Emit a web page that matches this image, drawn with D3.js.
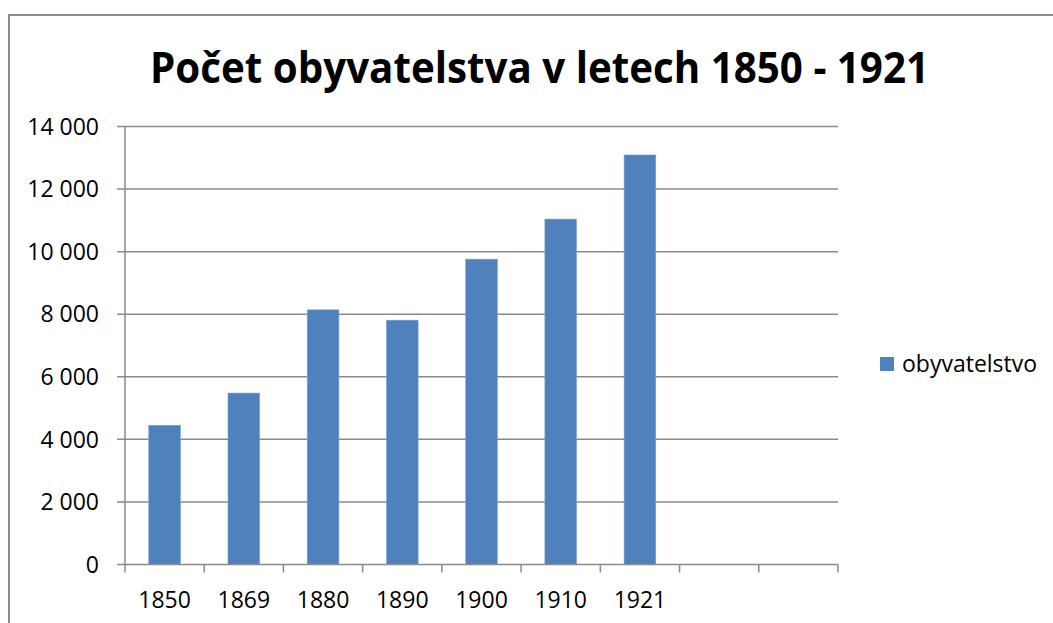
<!DOCTYPE html>
<html>
<head>
<meta charset="utf-8">
<script src="https://cdn.jsdelivr.net/npm/d3@7"></script>
<style>
  body { margin: 0; background: #fff; }
  text { font-family: "Open Sans", "DejaVu Sans", sans-serif; fill: #000; }
</style>
</head>
<body>
<div id="chart"></div>
<script>
// data (Excel-style column chart)
var categories = ["1850", "1869", "1880", "1890", "1900", "1910", "1921", "", ""];
var population = [4450, 5480, 8140, 7810, 9760, 11040, 13090, null, null];
var yTicks = [0, 2000, 4000, 6000, 8000, 10000, 12000, 14000];
var seriesName = "obyvatelstvo";
var chartTitle = "Počet obyvatelstva v letech 1850 - 1921";

var W = 1053, H = 623,
	plotLeft = 125, plotRight = 838, plotTop = 126.5, plotBottom = 564.5,
	gridColor = "#8a8a8a", barColor = "#4f81bd", labelSize = "23px";

var svg = d3.select("#chart").append("svg")
	.attr("width", W)
	.attr("height", H);

// chart frame, runs off the right and bottom of the window
svg.append("rect")
	.attr("x", 9).attr("y", 15)
	.attr("width", 1200).attr("height", 800)
	.attr("fill", "none")
	.attr("stroke", "#8c8c8c")
	.attr("stroke-width", 2);

svg.append("text")
	.attr("x", 150).attr("y", 83)
	.attr("textLength", 779)
	.attr("lengthAdjust", "spacingAndGlyphs")
	.style("font-size", "43px")
	.style("font-weight", "bold")
	.text(chartTitle);

var x = d3.scaleBand()
	.domain(d3.range(categories.length))
	.range([plotLeft, plotRight])
	.paddingInner(0.6)
	.paddingOuter(0.3);

var y = d3.scaleLinear()
	.domain([0, 14000])
	.range([plotBottom, plotTop]);

var fmt = function (d) {
	return d3.format(",")(d).replace(/,/g, " ");
};

// gridlines + y ticks
var yAxis = svg.append("g").attr("class", "y-axis");
yTicks.forEach(function (t) {
	yAxis.append("line")
		.attr("x1", plotLeft - 8).attr("x2", t === 0 ? plotLeft : plotRight)
		.attr("y1", y(t)).attr("y2", y(t))
		.attr("stroke", gridColor)
		.attr("stroke-width", 1.5);
	yAxis.append("text")
		.attr("x", 99)
		.attr("y", y(t))
		.attr("dy", "0.36em")
		.attr("text-anchor", "end")
		.style("font-size", labelSize)
		.text(fmt(t));
});

// bars
svg.append("g").selectAll("rect")
	.data(population.map(function (v, i) { return {i: i, v: v}; }).filter(function (d) { return d.v != null; }))
	.enter()
	.append("rect")
	.attr("x", function (d) { return x(d.i); })
	.attr("y", function (d) { return y(d.v); })
	.attr("width", x.bandwidth())
	.attr("height", function (d) { return y(0) - y(d.v); })
	.attr("fill", barColor)
	.attr("stroke", "#7ea3d2")
	.attr("stroke-width", 0.6);

// axes lines
svg.append("line")
	.attr("x1", plotLeft).attr("x2", plotLeft)
	.attr("y1", plotTop).attr("y2", plotBottom)
	.attr("stroke", gridColor).attr("stroke-width", 1.5);
svg.append("line")
	.attr("x1", plotLeft).attr("x2", plotRight)
	.attr("y1", plotBottom).attr("y2", plotBottom)
	.attr("stroke", gridColor).attr("stroke-width", 1.5);

// category tick marks sit between the categories
var step = x.step();
d3.range(categories.length + 1).forEach(function (i) {
	var px = plotLeft + i * step;
	svg.append("line")
		.attr("x1", px).attr("x2", px)
		.attr("y1", plotBottom).attr("y2", plotBottom + 8)
		.attr("stroke", gridColor).attr("stroke-width", 1.5);
});

svg.append("g").selectAll("text")
	.data(categories)
	.enter()
	.append("text")
	.attr("x", function (d, i) { return x(i) + x.bandwidth() / 2; })
	.attr("y", 608)
	.attr("text-anchor", "middle")
	.style("font-size", labelSize)
	.text(function (d) { return d; });

// legend
var legend = svg.append("g");
legend.append("rect")
	.attr("x", 880).attr("y", 357)
	.attr("width", 14).attr("height", 14)
	.attr("fill", barColor);
legend.append("text")
	.attr("x", 902).attr("y", 372)
	.style("font-size", labelSize)
	.text(seriesName);
</script>
</body>
</html>
